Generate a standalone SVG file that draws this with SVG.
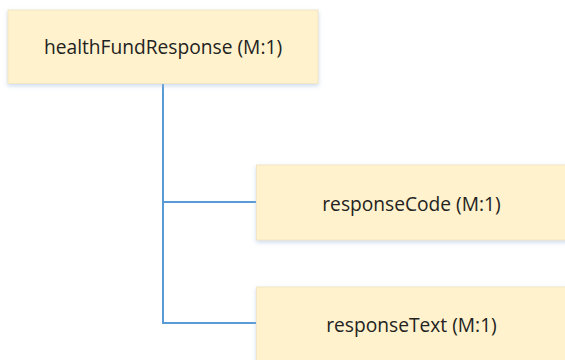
<svg xmlns="http://www.w3.org/2000/svg" width="565" height="360" viewBox="0 0 565 360">
  <defs>
    <filter id="shadow" x="-10%" y="-20%" width="120%" height="150%">
      <feGaussianBlur in="SourceAlpha" stdDeviation="2"/>
      <feOffset dx="0" dy="2" result="b"/>
      <feFlood flood-color="#9bb7d9" flood-opacity="0.5"/>
      <feComposite in2="b" operator="in"/>
      <feMerge><feMergeNode/><feMergeNode in="SourceGraphic"/></feMerge>
    </filter>
  </defs>
  <style>
    .box { fill: #fff2cc; stroke: #f1e6c6; stroke-width: 1; filter: url(#shadow); }
    .label { font-family: "Open Sans", "Liberation Sans", sans-serif; font-size: 19.2px; fill: #222222; text-anchor: middle; }
    .link { fill: none; stroke: #5b9bd5; stroke-width: 2; }
  </style>
  <rect width="565" height="360" fill="#ffffff"/>
  <g id="connectors">
    <path class="link" d="M163 84 V323 H257"/>
    <path class="link" d="M163 202 H257"/>
  </g>
  <g id="healthFundResponse">
    <rect class="box" x="8" y="10" width="310" height="73.5"/>
    <text class="label" x="163" y="53.5">healthFundResponse (M:1)</text>
  </g>
  <g id="responseCode">
    <rect class="box" x="256.5" y="165" width="315" height="75"/>
    <text class="label" x="411.5" y="210.5">responseCode (M:1)</text>
  </g>
  <g id="responseText">
    <rect class="box" x="256.5" y="287" width="315" height="80"/>
    <text class="label" x="411.5" y="332">responseText (M:1)</text>
  </g>
</svg>
